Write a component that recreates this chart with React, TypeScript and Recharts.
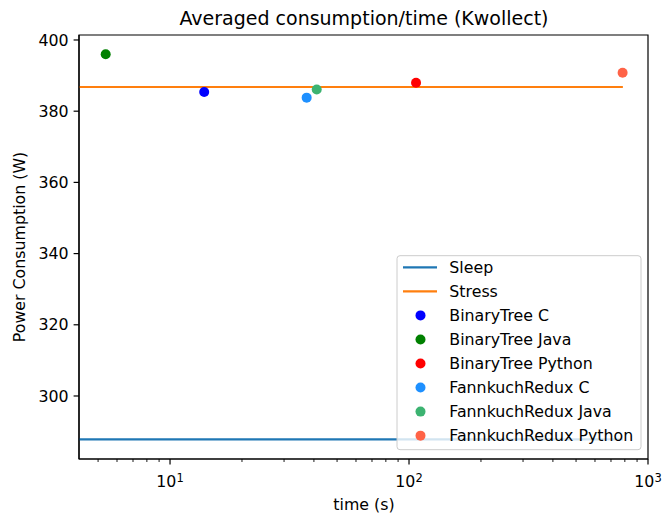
import React from 'react';
import { ComposedChart, XAxis, YAxis, Line, Scatter, ReferenceArea } from 'recharts';

const X_DOMAIN: [number, number] = [4.16, 1000];
const Y_DOMAIN: [number, number] = [282.3, 401.4];
const Y_TICKS = [300, 320, 340, 360, 380, 400];
const X_TICKS = [5, 6, 7, 8, 9, 10, 20, 30, 40, 50, 60, 70, 80, 90, 100, 200, 300, 400, 500, 600, 700, 800, 900, 1000];

const sleepLine = [{ x: 4.16, y: 287.8 }, { x: 785, y: 287.8 }];
const stressLine = [{ x: 4.16, y: 386.8 }, { x: 785, y: 386.8 }];

const binaryTreeC = [{ x: 13.9, y: 385.4 }];
const binaryTreeJava = [{ x: 5.38, y: 396.0 }];
const binaryTreePython = [{ x: 107, y: 388.0 }];
const fannkuchC = [{ x: 37.3, y: 383.8 }];
const fannkuchJava = [{ x: 41.1, y: 386.1 }];
const fannkuchPython = [{ x: 783, y: 390.8 }];

const lineSeries = [
  { name: 'Sleep', data: sleepLine, color: '#1f77b4' },
  { name: 'Stress', data: stressLine, color: '#ff7f0e' },
];
const pointSeries = [
  { name: 'BinaryTree C', data: binaryTreeC, color: '#0000ff' },
  { name: 'BinaryTree Java', data: binaryTreeJava, color: '#008000' },
  { name: 'BinaryTree Python', data: binaryTreePython, color: '#ff0000' },
  { name: 'FannkuchRedux C', data: fannkuchC, color: '#1e90ff' },
  { name: 'FannkuchRedux Java', data: fannkuchJava, color: '#3cb371' },
  { name: 'FannkuchRedux Python', data: fannkuchPython, color: '#ff6347' },
];

const FONT = '"DejaVu Sans", sans-serif';
const FS = 15.8;

const XTick = (props: any) => {
  const { x, y, payload } = props;
  const v = payload.value as number;
  const lg = Math.log10(v);
  const exp = Math.round(lg);
  const major = Math.abs(lg - exp) < 1e-6;
  return (
    <g>
      <line x1={x} x2={x} y1={y} y2={y + (major ? 5.4 : 3)} stroke="#000" strokeWidth={major ? 1.2 : 0.9} />
      {major && (
        <text x={x} y={y + 28} textAnchor="middle" fontSize={FS} fill="#000" fontFamily={FONT}>
          10<tspan dy={-5} fontSize={11.5}>{exp}</tspan>
        </text>
      )}
    </g>
  );
};

const Dot = (color: string) => (props: any) => (
  <circle cx={props.cx} cy={props.cy} r={5} fill={color} />
);

export default function App() {
  const rowH = 24.05;
  return (
    <div style={{ position: 'absolute', left: 0, top: 0, width: 665, height: 520, background: '#fff' }}>
      <ComposedChart width={665} height={520} margin={{ top: 35, right: 17, bottom: 0, left: 0 }}>
        <XAxis
          dataKey="x"
          type="number"
          scale="log"
          domain={X_DOMAIN}
          allowDataOverflow
          ticks={X_TICKS}
          interval={0}
          tickSize={0}
          tickMargin={0}
          tickLine={false}
          tick={<XTick />}
          height={61}
          axisLine={{ stroke: '#000', strokeWidth: 1.2 }}
        />
        <YAxis
          dataKey="y"
          type="number"
          domain={Y_DOMAIN}
          allowDataOverflow
          ticks={Y_TICKS}
          interval={0}
          width={79}
          tickSize={5.4}
          tickMargin={5}
          tickLine={{ stroke: '#000', strokeWidth: 1.2 }}
          axisLine={{ stroke: '#000', strokeWidth: 1.2 }}
          tick={{ fill: '#000', fontSize: FS, fontFamily: FONT }}
        />
        <ReferenceArea
          x1={X_DOMAIN[0]}
          x2={X_DOMAIN[1]}
          y1={Y_DOMAIN[0]}
          y2={Y_DOMAIN[1]}
          fill="none"
          fillOpacity={0}
          stroke="#000"
          strokeWidth={1.2}
          ifOverflow="visible"
        />
        {lineSeries.map((s) => (
          <Line
            key={s.name}
            data={s.data}
            dataKey="y"
            stroke={s.color}
            strokeWidth={2.2}
            dot={false}
            activeDot={false}
            isAnimationActive={false}
            type="linear"
          />
        ))}
        {pointSeries.map((s) => (
          <Scatter key={s.name} data={s.data} fill={s.color} shape={Dot(s.color)} isAnimationActive={false} />
        ))}
      </ComposedChart>
      <svg width={665} height={520} style={{ position: 'absolute', left: 0, top: 0, pointerEvents: 'none' }}>
        <text x={364} y={24.5} textAnchor="middle" fontSize={19} fontFamily={FONT} fill="#000">
          Averaged consumption/time (Kwollect)
        </text>
        <text x={364} y={509.5} textAnchor="middle" fontSize={FS} fontFamily={FONT} fill="#000">
          time (s)
        </text>
        <text transform="translate(24.5,247) rotate(-90)" x={0} y={0} textAnchor="middle" fontSize={FS} fontFamily={FONT} fill="#000">
          Power Consumption (W)
        </text>
        <rect x={397} y={255.7} width={244} height={194} rx={3} fill="#fff" fillOpacity={0.8} stroke="#cccccc" strokeWidth={1} />
        {lineSeries.map((s, i) => (
          <g key={s.name}>
            <line x1={403} x2={437} y1={267.3 + i * rowH} y2={267.3 + i * rowH} stroke={s.color} strokeWidth={2.2} />
            <text x={449.3} y={273.0 + i * rowH} fontSize={FS} fontFamily={FONT} fill="#000">{s.name}</text>
          </g>
        ))}
        {pointSeries.map((s, j) => {
          const i = j + 2;
          return (
            <g key={s.name}>
              <circle cx={420.5} cy={267.3 + i * rowH} r={5} fill={s.color} />
              <text x={449.3} y={273.0 + i * rowH} fontSize={FS} fontFamily={FONT} fill="#000">{s.name}</text>
            </g>
          );
        })}
      </svg>
    </div>
  );
}
